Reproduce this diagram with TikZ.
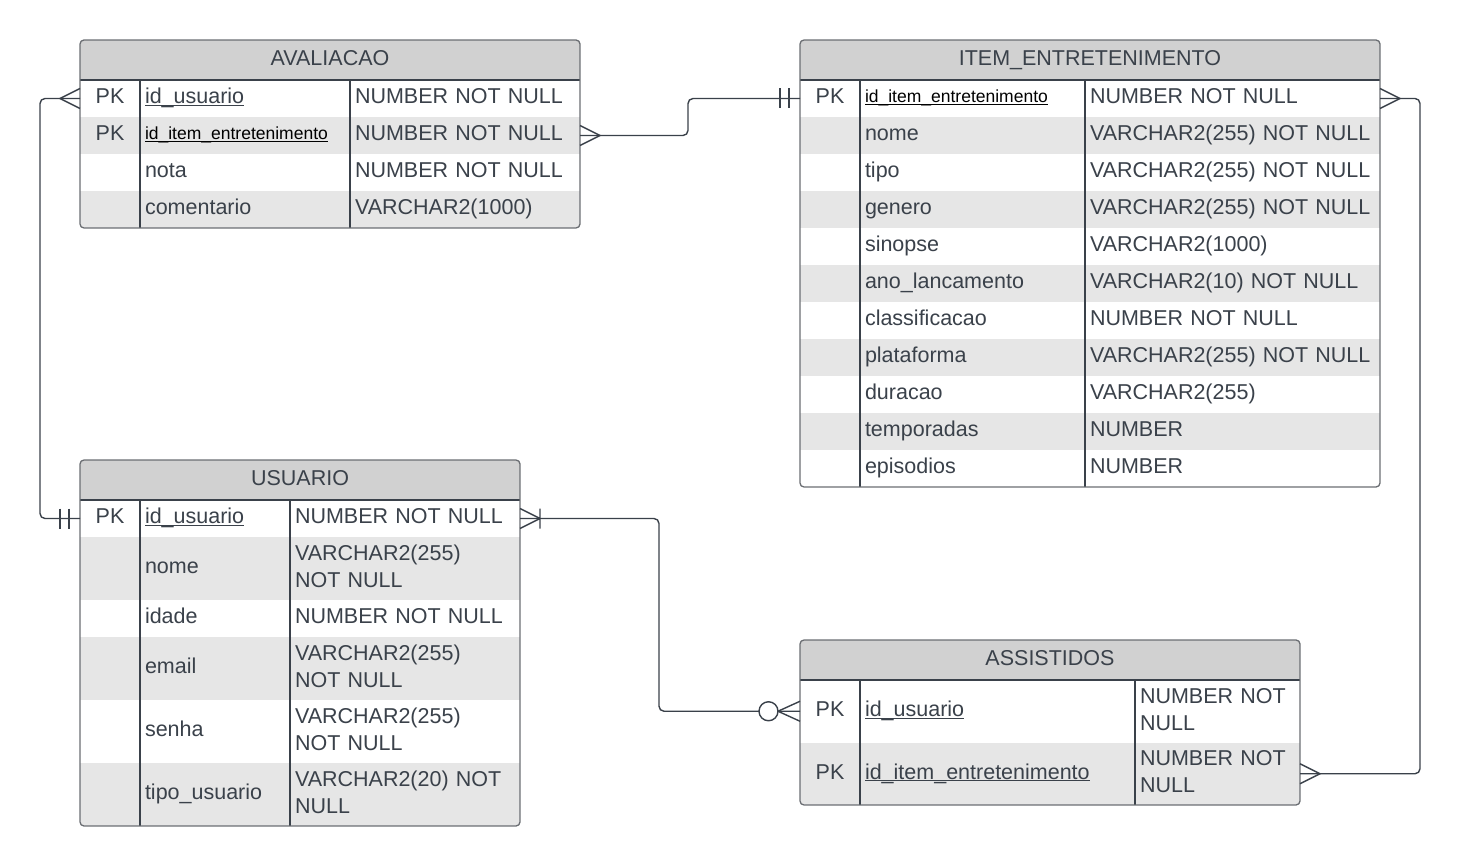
\documentclass[tikz,border=0pt]{standalone}
\usepackage{fontspec}
\setmainfont{Liberation Sans}
\usetikzlibrary{positioning}

\definecolor{inkgray}{HTML}{3A414A}
\definecolor{edgegray}{HTML}{6B6E73}
\definecolor{headgray}{HTML}{D1D1D1}
\definecolor{bandgray}{HTML}{E6E6E6}
\newcommand{\keyname}[1]{\underline{\smash{#1}}}

\begin{document}
\begin{tikzpicture}[
  x=1pt,y=-1pt,
  every node/.style={font=\fontsize{21.5}{27}\selectfont,text=inkgray,outer sep=0pt},
  head/.style={
    anchor=north west,
    fill=headgray,
    inner sep=0pt,
    minimum height=40pt,
    execute at begin node=\strut,
  },
  cell/.style={
    fill=white,
    align=left,
    inner xsep=5pt,
    inner ysep=0pt,
    minimum height=37pt,
    execute at begin node=\strut,
    execute at end node=\strut,
  },
  keycell/.style={cell,align=center,inner xsep=0pt,minimum width=60pt},
  band/.style={fill=bandgray},
  tall/.style={minimum height=63pt},
  small/.style={font=\fontsize{17.5}{21}\selectfont,text=black},
  frame/.style={draw=edgegray,line width=1.3pt,rounded corners=4pt},
  divider/.style={draw=inkgray,line width=1.1pt},
  link/.style={draw=inkgray,line width=1.4pt,rounded corners=5pt},
  tip/.style={draw=inkgray,line width=1.4pt},
  many/.pic={\draw[tip] (0,-10) -- (-20,0) -- (0,10);},
  one only/.pic={\draw[tip] (-11,-10) -- (-11,10) (-20,-10) -- (-20,10);},
  one many/.pic={\draw[tip] (0,-10) -- (-20,0) -- (0,10) (-20,-10) -- (-20,10);},
  zero many/.pic={
    \draw[tip] (0,-10) -- (-22,0) -- (0,10);
    \draw[tip,fill=white] (-31.5,0) circle[radius=9.5];
  },
  ]
  \useasboundingbox (0,0) rectangle (1461,866);

  % AVALIACAO
  \begin{scope}[namecell/.style={cell,text width=200pt},typecell/.style={cell,text width=220pt}]
    \clip[rounded corners=4pt] (80,40) rectangle (580,228);
    \node[head,minimum width=500pt] (av-head) at (80,40) {AVALIACAO};
    \node[keycell,anchor=north west] (av-k1) at (av-head.south west) {PK};
    \node[namecell,right=0pt of av-k1] (av-n1) {\keyname{id\_usuario}};
    \node[typecell,right=0pt of av-n1] (av-t1) {NUMBER NOT NULL};
    \node[keycell,band,below=0pt of av-k1] (av-k2) {PK};
    \node[namecell,band,small,right=0pt of av-k2] (av-n2) {\keyname{id\_item\_entretenimento}};
    \node[typecell,band,right=0pt of av-n2] (av-t2) {NUMBER NOT NULL};
    \node[keycell,below=0pt of av-k2] (av-k3) {};
    \node[namecell,right=0pt of av-k3] (av-n3) {nota};
    \node[typecell,right=0pt of av-n3] (av-t3) {NUMBER NOT NULL};
    \node[keycell,band,below=0pt of av-k3] (av-k4) {};
    \node[namecell,band,right=0pt of av-k4] (av-n4) {comentario};
    \node[typecell,band,right=0pt of av-n4] (av-t4) {VARCHAR2(1000)};
  \end{scope}
  \path[divider] (av-head.south west) -- (av-head.south east)
    (av-k1.north east) -- (av-k4.south east)
    (av-n1.north east) -- (av-n4.south east);
  \draw[frame] (av-head.north west) rectangle (av-t4.south east);

  % ITEM_ENTRETENIMENTO
  \begin{scope}[namecell/.style={cell,text width=215pt},typecell/.style={cell,text width=285pt}]
    \clip[rounded corners=4pt] (800,40) rectangle (1380,487);
    \node[head,minimum width=580pt] (it-head) at (800,40) {ITEM\_ENTRETENIMENTO};
    \node[keycell,anchor=north west] (it-k1) at (it-head.south west) {PK};
    \node[namecell,small,right=0pt of it-k1] (it-n1) {\keyname{id\_item\_entretenimento}};
    \node[typecell,right=0pt of it-n1] (it-t1) {NUMBER NOT NULL};
    \node[keycell,band,below=0pt of it-k1] (it-k2) {};
    \node[namecell,band,right=0pt of it-k2] (it-n2) {nome};
    \node[typecell,band,right=0pt of it-n2] (it-t2) {VARCHAR2(255) NOT NULL};
    \node[keycell,below=0pt of it-k2] (it-k3) {};
    \node[namecell,right=0pt of it-k3] (it-n3) {tipo};
    \node[typecell,right=0pt of it-n3] (it-t3) {VARCHAR2(255) NOT NULL};
    \node[keycell,band,below=0pt of it-k3] (it-k4) {};
    \node[namecell,band,right=0pt of it-k4] (it-n4) {genero};
    \node[typecell,band,right=0pt of it-n4] (it-t4) {VARCHAR2(255) NOT NULL};
    \node[keycell,below=0pt of it-k4] (it-k5) {};
    \node[namecell,right=0pt of it-k5] (it-n5) {sinopse};
    \node[typecell,right=0pt of it-n5] (it-t5) {VARCHAR2(1000)};
    \node[keycell,band,below=0pt of it-k5] (it-k6) {};
    \node[namecell,band,right=0pt of it-k6] (it-n6) {ano\_lancamento};
    \node[typecell,band,right=0pt of it-n6] (it-t6) {VARCHAR2(10) NOT NULL};
    \node[keycell,below=0pt of it-k6] (it-k7) {};
    \node[namecell,right=0pt of it-k7] (it-n7) {classificacao};
    \node[typecell,right=0pt of it-n7] (it-t7) {NUMBER NOT NULL};
    \node[keycell,band,below=0pt of it-k7] (it-k8) {};
    \node[namecell,band,right=0pt of it-k8] (it-n8) {plataforma};
    \node[typecell,band,right=0pt of it-n8] (it-t8) {VARCHAR2(255) NOT NULL};
    \node[keycell,below=0pt of it-k8] (it-k9) {};
    \node[namecell,right=0pt of it-k9] (it-n9) {duracao};
    \node[typecell,right=0pt of it-n9] (it-t9) {VARCHAR2(255)};
    \node[keycell,band,below=0pt of it-k9] (it-k10) {};
    \node[namecell,band,right=0pt of it-k10] (it-n10) {temporadas};
    \node[typecell,band,right=0pt of it-n10] (it-t10) {NUMBER};
    \node[keycell,below=0pt of it-k10] (it-k11) {};
    \node[namecell,right=0pt of it-k11] (it-n11) {episodios};
    \node[typecell,right=0pt of it-n11] (it-t11) {NUMBER};
  \end{scope}
  \path[divider] (it-head.south west) -- (it-head.south east)
    (it-k1.north east) -- (it-k11.south east)
    (it-n1.north east) -- (it-n11.south east);
  \draw[frame] (it-head.north west) rectangle (it-t11.south east);

  % USUARIO
  \begin{scope}[namecell/.style={cell,text width=140pt},typecell/.style={cell,text width=220pt}]
    \clip[rounded corners=4pt] (80,460) rectangle (520,826);
    \node[head,minimum width=440pt] (us-head) at (80,460) {USUARIO};
    \node[keycell,anchor=north west] (us-k1) at (us-head.south west) {PK};
    \node[namecell,right=0pt of us-k1] (us-n1) {\keyname{id\_usuario}};
    \node[typecell,right=0pt of us-n1] (us-t1) {NUMBER NOT NULL};
    \node[keycell,band,tall,below=0pt of us-k1] (us-k2) {};
    \node[namecell,band,tall,right=0pt of us-k2] (us-n2) {nome};
    \node[typecell,band,tall,right=0pt of us-n2] (us-t2) {VARCHAR2(255)\\NOT NULL};
    \node[keycell,below=0pt of us-k2] (us-k3) {};
    \node[namecell,right=0pt of us-k3] (us-n3) {idade};
    \node[typecell,right=0pt of us-n3] (us-t3) {NUMBER NOT NULL};
    \node[keycell,band,tall,below=0pt of us-k3] (us-k4) {};
    \node[namecell,band,tall,right=0pt of us-k4] (us-n4) {email};
    \node[typecell,band,tall,right=0pt of us-n4] (us-t4) {VARCHAR2(255)\\NOT NULL};
    \node[keycell,tall,below=0pt of us-k4] (us-k5) {};
    \node[namecell,tall,right=0pt of us-k5] (us-n5) {senha};
    \node[typecell,tall,right=0pt of us-n5] (us-t5) {VARCHAR2(255)\\NOT NULL};
    \node[keycell,band,tall,below=0pt of us-k5] (us-k6) {};
    \node[namecell,band,tall,right=0pt of us-k6] (us-n6) {tipo\_usuario};
    \node[typecell,band,tall,right=0pt of us-n6] (us-t6) {VARCHAR2(20) NOT\\NULL};
  \end{scope}
  \path[divider] (us-head.south west) -- (us-head.south east)
    (us-k1.north east) -- (us-k6.south east)
    (us-n1.north east) -- (us-n6.south east);
  \draw[frame] (us-head.north west) rectangle (us-t6.south east);

  % ASSISTIDOS
  \begin{scope}[
    namecell/.style={cell,text width=265pt},
    typecell/.style={cell,text width=155pt},
    tall/.style={minimum height=62.5pt},
    ]
    \clip[rounded corners=4pt] (800,640) rectangle (1300,805);
    \node[head,minimum width=500pt] (as-head) at (800,640) {ASSISTIDOS};
    \node[keycell,tall,anchor=north west] (as-k1) at (as-head.south west) {PK};
    \node[namecell,tall,right=0pt of as-k1] (as-n1) {\keyname{id\_usuario}};
    \node[typecell,tall,right=0pt of as-n1] (as-t1) {NUMBER NOT\\NULL};
    \node[keycell,band,tall,below=0pt of as-k1] (as-k2) {PK};
    \node[namecell,band,tall,right=0pt of as-k2] (as-n2) {\keyname{id\_item\_entretenimento}};
    \node[typecell,band,tall,right=0pt of as-n2] (as-t2) {NUMBER NOT\\NULL};
  \end{scope}
  \path[divider] (as-head.south west) -- (as-head.south east)
    (as-k1.north east) -- (as-k2.south east)
    (as-n1.north east) -- (as-n2.south east);
  \draw[frame] (as-head.north west) rectangle (as-t2.south east);

  % relationships
  \path[link] (av-k1.west) -- ++(-40,0) |- (us-k1.west);
  \pic at (av-k1.west) {many};
  \pic at (us-k1.west) {one only};
  \path[link] (av-t2.east) -- ++(108,0) |- (it-k1.west);
  \pic[rotate=180] at (av-t2.east) {many};
  \pic at (it-k1.west) {one only};
  \path[link] (it-t1.east) -- ++(40,0) |- (as-t2.east);
  \pic[rotate=180] at (it-t1.east) {many};
  \pic[rotate=180] at (as-t2.east) {many};
  \path[link] (us-t1.east) -- ++(139,0) |- (as-k1.west);
  \pic[rotate=180] at (us-t1.east) {one many};
  \pic at (as-k1.west) {zero many};
\end{tikzpicture}
\end{document}
